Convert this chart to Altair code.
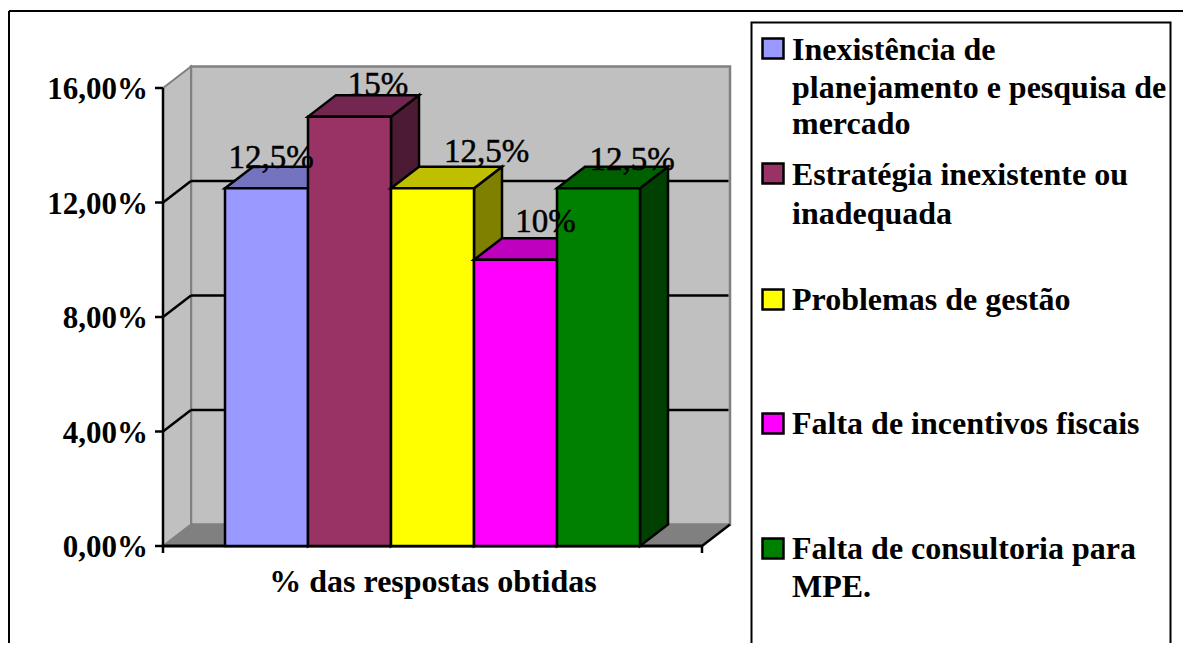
import altair as alt
import pandas as pd

# ---- data ----
categories = [
    "Inexistência de planejamento e pesquisa de mercado",
    "Estratégia inexistente ou inadequada",
    "Problemas de gestão",
    "Falta de incentivos fiscais",
    "Falta de consultoria para MPE.",
]
values = [12.5, 15, 12.5, 10, 12.5]
value_labels = ["12,5%", "15%", "12,5%", "10%", "12,5%"]
tick_values = [0, 4, 8, 12, 16]
tick_labels = ["0,00%", "4,00%", "8,00%", "12,00%", "16,00%"]
x_title = "% das respostas obtidas"
legend_lines = [
    ["Inexistência de", "planejamento e pesquisa de", "mercado"],
    ["Estratégia inexistente ou", "inadequada"],
    ["Problemas de gestão"],
    ["Falta de incentivos fiscais"],
    ["Falta de consultoria para", "MPE."],
]
front = ["#9999FF", "#993366", "#FFFF00", "#FF00FF", "#008000"]
top = ["#7373BF", "#732650", "#BFBF00", "#BF00BF", "#006000"]
side = ["#4D4D80", "#4D1A33", "#808000", "#800080", "#004000"]

# ---- layout (page pixels) ----
W, H, M = 1175, 635, 8
BAR_PX = 83.0
UNIT_PX = 28.625
X0_PX, Y0_PX = 225.0, 546.0
FONT = "Liberation Serif"
LINE = 2.5


def ux(px):
    return (px - X0_PX) / BAR_PX


def uy(py):
    return (Y0_PX - py) / UNIT_PX


xs = alt.Scale(domain=[ux(M), ux(M + W)], nice=False, zero=False)
ys = alt.Scale(domain=[uy(M + H), uy(M)], nice=False, zero=False)
DX, DY = 28.0 / BAR_PX, 21.5 / UNIT_PX
LEFT, RIGHT = ux(163), ux(702)
Q = "quantitative"


def X(f="x"):
    return alt.X(f, type=Q, scale=xs, axis=None)


def Y(f="y"):
    return alt.Y(f, type=Q, scale=ys, axis=None)


def seg(rows, color, width=LINE):
    df = pd.DataFrame(rows, columns=["x", "x2", "y", "y2"])
    return alt.Chart(df).mark_rule(color=color, strokeWidth=width).encode(
        x=X(), x2="x2", y=Y(), y2="y2"
    )


def side_area(xa, xb, ya, ya2, yb, yb2, fill, stroke, width=LINE):
    df = pd.DataFrame({"x": [xa, xb], "y": [ya, yb], "y2": [ya2, yb2]})
    return alt.Chart(df).mark_area(
        orient="vertical", fill=fill, stroke=stroke, strokeWidth=width, opacity=1
    ).encode(x=X(), y=Y(), y2="y2")


def flat_area(ya, yb, xa, xa2, xb, xb2, fill, stroke, width=LINE):
    df = pd.DataFrame({"y": [ya, yb], "x": [xa, xb], "x2": [xa2, xb2]})
    return alt.Chart(df).mark_area(
        orient="horizontal", fill=fill, stroke=stroke, strokeWidth=width, opacity=1
    ).encode(y=Y(), x=X(), x2="x2")


layers = []

# walls and floor
WALL = "#C0C0C0"
GREY = "#808080"
layers.append(side_area(LEFT + DX, RIGHT + DX, 16 + DY, DY, 16 + DY, DY, WALL, GREY, 2.5))
layers.append(side_area(LEFT, LEFT + DX, 16, 0, 16 + DY, DY, WALL, GREY, 2))
layers.append(flat_area(0, DY, LEFT, RIGHT, LEFT + DX, RIGHT + DX, GREY, GREY, 1))

# gridlines
grid = [t for t in tick_values if 0 < t < 16]
layers.append(seg([(LEFT, LEFT + DX, t, t + DY) for t in grid], "black"))
layers.append(seg([(LEFT + DX, RIGHT + DX - 1.5 / BAR_PX, t + DY, t + DY) for t in grid], "black"))
layers.append(seg([(RIGHT, RIGHT + DX, 0, DY)], "black"))

# axis lines and ticks
layers.append(seg([(LEFT, LEFT, uy(553), 16)], "black"))
layers.append(seg([(LEFT, RIGHT, 0, 0)], "black", 3))
layers.append(seg([(RIGHT, RIGHT, uy(553), 0)], "black"))
layers.append(seg([(ux(155), LEFT, t, t) for t in tick_values], "black"))

# tick labels
layers.append(
    alt.Chart(pd.DataFrame({"x": [LEFT] * len(tick_values), "y": tick_values, "t": tick_labels})).mark_text(
        font=FONT, fontSize=31, fontWeight="bold", color="black",
        align="right", baseline="alphabetic", dx=-15, dy=11,
    ).encode(x=X(), y=Y(), text="t:N")
)

# bars, painted left to right
for i, v in enumerate(values):
    l, r = float(i), float(i + 1)
    layers.append(side_area(r, r + DX, v, 0, v + DY, DY, side[i], "black"))
    layers.append(flat_area(v, v + DY, l, r, l + DX, r + DX, top[i], "black"))
    df = pd.DataFrame({"x": [l], "x2": [r], "y": [0.0], "y2": [float(v)]})
    layers.append(
        alt.Chart(df).mark_rect(fill=front[i], stroke="black", strokeWidth=LINE).encode(
            x=X(), x2="x2", y=Y(), y2="y2"
        )
    )

# value labels
label_nudges = [(4.5, -20), (28.5, -22), (54, -26), (30, -28), (33.5, -18)]
for i, v in enumerate(values):
    ndx, ndy = label_nudges[i]
    df = pd.DataFrame({"x": [i + 0.5], "y": [float(v)], "t": [value_labels[i]]})
    layers.append(
        alt.Chart(df).mark_text(
            font=FONT, fontSize=33, color="black", align="center",
            baseline="alphabetic", dx=ndx, dy=ndy, stroke="black", strokeWidth=0.5,
        ).encode(x=X(), y=Y(), text="t:N")
    )

# axis caption
layers.append(
    alt.Chart(pd.DataFrame({"t": [x_title]})).mark_text(
        font=FONT, fontSize=32, fontWeight="bold", color="black",
        align="center", baseline="alphabetic",
    ).encode(x=alt.value(433 - M), y=alt.value(592 - M), text="t:N")
)

# outer frame
layers.append(
    alt.Chart(pd.DataFrame({"a": [0]})).mark_rule(color="black", strokeWidth=2).encode(
        x=alt.value(1), x2=alt.value(W), y=alt.value(3), y2=alt.value(3)
    )
)
layers.append(
    alt.Chart(pd.DataFrame({"a": [0]})).mark_rule(color="black", strokeWidth=2).encode(
        x=alt.value(1), x2=alt.value(1), y=alt.value(3), y2=alt.value(H)
    )
)

# legend box
layers.append(
    alt.Chart(pd.DataFrame({"a": [0]})).mark_rect(fill="white", stroke="black", strokeWidth=2).encode(
        x=alt.value(751.5 - M), x2=alt.value(1170.5 - M), y=alt.value(22.5 - M), y2=alt.value(649 - M)
    )
)

legend_swatch_top = [38, 163, 289, 413, 538]
legend_baselines = [[60, 98, 134], [185, 224], [310], [434], [559, 597]]
for i, lines in enumerate(legend_lines):
    st = legend_swatch_top[i]
    layers.append(
        alt.Chart(pd.DataFrame({"c": [categories[i]]})).mark_rect(
            fill=front[i], stroke="black", strokeWidth=LINE
        ).encode(
            x=alt.value(762.5 - M), x2=alt.value(783.5 - M),
            y=alt.value(st + 0.5 - M), y2=alt.value(st + 20.5 - M),
        )
    )
    for line, base in zip(lines, legend_baselines[i]):
        layers.append(
            alt.Chart(pd.DataFrame({"t": [line]})).mark_text(
                font=FONT, fontSize=32, fontWeight="bold", color="black",
                align="left", baseline="alphabetic",
            ).encode(x=alt.value(792 - M), y=alt.value(base - M), text="t:N")
        )

chart = (
    alt.layer(*layers)
    .resolve_scale(x="shared", y="shared")
    .properties(width=W, height=H, padding=0, background="white",
                autosize=alt.AutoSizeParams(type="none"))
    .configure_view(stroke=None)
)
chart.save("out.html", embed_options={"renderer": "svg", "actions": False})
